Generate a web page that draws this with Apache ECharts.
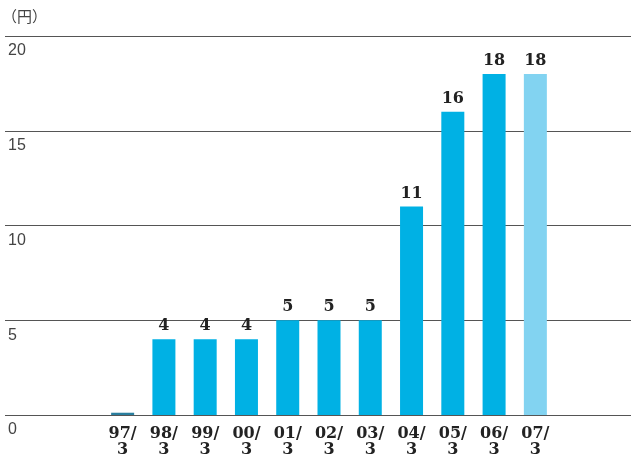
<!DOCTYPE html>
<html><head><meta charset="utf-8">
<script src="https://cdn.jsdelivr.net/npm/echarts@6/dist/echarts.min.js"></script>
<style>html,body{margin:0;padding:0;background:#fff}#c{width:631px;height:455px}</style>
</head><body><div id="c"></div>
<script>
const categories = ['97/\n3','98/\n3','99/\n3','00/\n3','01/\n3','02/\n3','03/\n3','04/\n3','05/\n3','06/\n3','07/\n3'];
const values = [0.12, 4, 4, 4, 5, 5, 5, 11, 16, 18, 18];
const valueLabels = ['', '4', '4', '4', '5', '5', '5', '11', '16', '18', '18'];
const yTicks = [0, 5, 10, 15, 20];
const unitLabel = '（円）';

const blue = '#00b1e4', lightBlue = '#82d3f1';
const chart = echarts.init(document.getElementById('c'), null, {renderer: 'canvas'});
chart.setOption({
  animation: false,
  graphic: [{type: 'text', left: 2, top: 9, style: {text: unitLabel, font: '15px "Noto Sans CJK JP", sans-serif', fill: '#444'}}],
  grid: [
    {left: 5, right: 0, top: 36, bottom: 40, outerBoundsMode: 'none', containLabel: false},
    {left: 102, width: 454, top: 36, bottom: 40, outerBoundsMode: 'none', containLabel: false}
  ],
  xAxis: [
    {gridIndex: 0, type: 'value', show: false, min: 0, max: 1},
    {gridIndex: 1, type: 'category', data: categories,
     axisLine: {show: false}, axisTick: {show: false},
     axisLabel: {margin: 11, interval: 0, lineHeight: 16, fontFamily: 'DejaVu Serif', fontWeight: 'bold', fontSize: 16, color: '#222'}}
  ],
  yAxis: [
    {gridIndex: 0, type: 'value', min: 0, max: 20, interval: 5,
     axisLine: {show: false}, axisTick: {show: false},
     splitLine: {show: true, lineStyle: {color: '#555', width: 1}},
     axisLabel: {inside: true, margin: 3, verticalAlign: 'top', padding: [7, 0, 0, 0], fontSize: 16, color: '#444', fontFamily: 'Liberation Sans',
       formatter: v => yTicks.includes(v) ? String(v) : ''}},
    {gridIndex: 1, type: 'value', min: 0, max: 20, show: false}
  ],
  series: [{
    type: 'bar', xAxisIndex: 1, yAxisIndex: 1, barWidth: 23,
    data: values.map((v, i) => ({value: v, itemStyle: {color: i === values.length - 1 ? lightBlue : (i === 0 ? '#2a7e9e' : blue)}})),
    label: {show: true, position: 'top', distance: 5, fontFamily: 'DejaVu Serif', fontWeight: 'bold', fontSize: 16, color: '#222',
      formatter: p => valueLabels[p.dataIndex]}
  }]
});
</script></body></html>
